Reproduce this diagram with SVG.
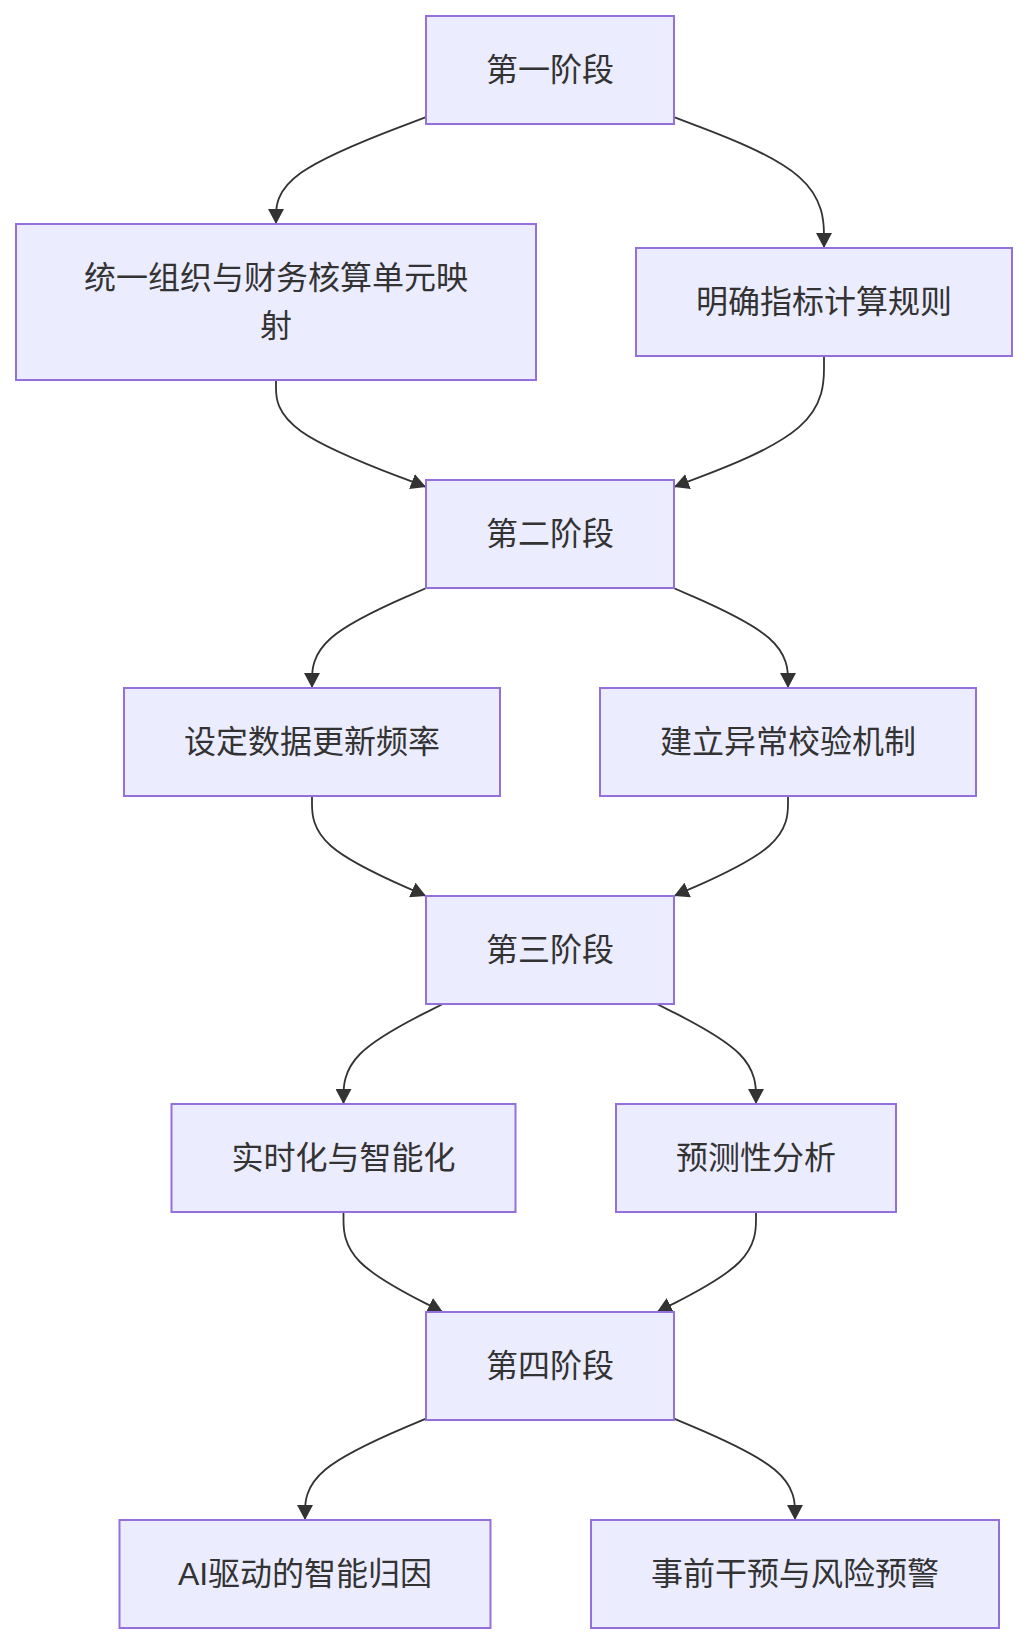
<svg xmlns="http://www.w3.org/2000/svg" width="1028" height="1644" viewBox="0 0 1028 1644">
<style>
.node rect{fill:#ECECFF;stroke:#9370DB;stroke-width:2}
.node text{font-family:"Liberation Sans","Noto Sans CJK SC",sans-serif;font-size:32px;fill:#333;text-anchor:middle;dominant-baseline:central}
.edges path{fill:none;stroke:#333;stroke-width:1.8;marker-end:url(#arrow)}
</style>
<defs>
<marker id="arrow" viewBox="0 0 10 10" refX="10" refY="5" markerUnits="userSpaceOnUse" markerWidth="15" markerHeight="16" orient="auto" preserveAspectRatio="none">
<path d="M0,0 L10,5 L0,10 z" fill="#333"/>
</marker>
</defs>
<rect width="1028" height="1644" fill="#fff"/>
<g class="edges">
<path d="M426,117.07 L401,126.56 C376,136.05 326,155.02 301,172.85 C276,190.67 276,207.33 276,215.67 L276,224"/>
<path d="M674,117.07 L699,126.56 C724,136.05 774,155.02 799,176.85 C824,198.67 824,223.33 824,235.67 L824,248"/>
<path d="M276,380 L276,388.33 C276,396.67 276,413.33 301,431.15 C326,448.97 376,467.93 401,477.42 L426,486.9"/>
<path d="M824,356 L824,368.33 C824,380.67 824,405.33 799,427.16 C774,448.98 724,467.95 699,477.44 L674,486.93"/>
<path d="M426.4,588 L407.33,596.33 C388.27,604.67 350.13,621.33 331.07,638 C312,654.67 312,671.33 312,679.67 L312,688"/>
<path d="M673.6,588 L692.67,596.33 C711.73,604.67 749.87,621.33 768.93,638 C788,654.67 788,671.33 788,679.67 L788,688"/>
<path d="M312,796 L312,804.33 C312,812.67 312,829.33 331,846 C350,862.67 388,879.33 407,887.67 L426,896"/>
<path d="M788,796 L788,804.33 C788,812.67 788,829.33 769,846 C750,862.67 712,879.33 693,887.67 L674,896"/>
<path d="M442.8,1004 L426.25,1012.33 C409.7,1020.67 376.6,1037.33 360.05,1054 C343.5,1070.67 343.5,1087.33 343.5,1095.67 L343.5,1104"/>
<path d="M656.96,1004 L673.47,1012.33 C689.97,1020.67 722.99,1037.33 739.49,1054 C756,1070.67 756,1087.33 756,1095.67 L756,1104"/>
<path d="M343.5,1212 L343.5,1220.33 C343.5,1228.67 343.5,1245.33 360.05,1262 C376.6,1278.67 409.7,1295.33 426.25,1303.67 L442.8,1312"/>
<path d="M756,1212 L756,1220.33 C756,1228.67 756,1245.33 739.49,1262 C722.99,1278.67 689.97,1295.33 673.47,1303.67 L656.96,1312"/>
<path d="M426,1418.6 L405.83,1427.17 C385.67,1435.73 345.33,1452.87 325.17,1469.77 C305,1486.67 305,1503.33 305,1511.67 L305,1520"/>
<path d="M674,1418.6 L694.17,1427.17 C714.33,1435.73 754.67,1452.87 774.83,1469.77 C795,1486.67 795,1503.33 795,1511.67 L795,1520"/>
</g>
<g id="A" class="node"><rect x="426" y="16" width="248" height="108"/><text x="550" y="70">第一阶段</text></g>
<g id="B" class="node"><rect x="16" y="224" width="520" height="156"/><text x="276" y="278">统一组织与财务核算单元映</text><text x="276" y="326">射</text></g>
<g id="C" class="node"><rect x="636" y="248" width="376" height="108"/><text x="824" y="302">明确指标计算规则</text></g>
<g id="D" class="node"><rect x="426" y="480" width="248" height="108"/><text x="550" y="534">第二阶段</text></g>
<g id="E" class="node"><rect x="124" y="688" width="376" height="108"/><text x="312" y="742">设定数据更新频率</text></g>
<g id="F" class="node"><rect x="600" y="688" width="376" height="108"/><text x="788" y="742">建立异常校验机制</text></g>
<g id="G" class="node"><rect x="426" y="896" width="248" height="108"/><text x="550" y="950">第三阶段</text></g>
<g id="H" class="node"><rect x="171.5" y="1104" width="344" height="108"/><text x="343.5" y="1158">实时化与智能化</text></g>
<g id="I" class="node"><rect x="616" y="1104" width="280" height="108"/><text x="756" y="1158">预测性分析</text></g>
<g id="J" class="node"><rect x="426" y="1312" width="248" height="108"/><text x="550" y="1366">第四阶段</text></g>
<g id="K" class="node"><rect x="119.5" y="1520" width="371" height="108"/><text x="305" y="1574">AI驱动的智能归因</text></g>
<g id="L" class="node"><rect x="591" y="1520" width="408" height="108"/><text x="795" y="1574">事前干预与风险预警</text></g>
</svg>
